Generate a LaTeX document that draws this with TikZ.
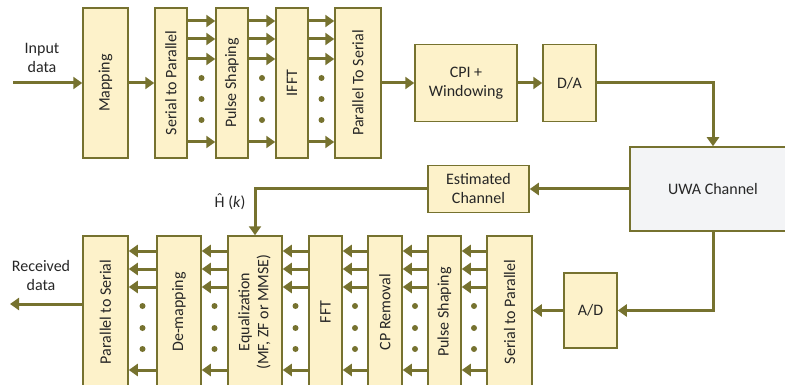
\documentclass[tikz,border=0pt]{standalone}
\usepackage{fontspec}
\setmainfont{Carlito}
\usetikzlibrary{arrows.meta}
\definecolor{lineol}{HTML}{76722F}
\definecolor{boxfill}{HTML}{FDF2CA}
\definecolor{chanfill}{HTML}{F3F4F6}
\definecolor{txt}{HTML}{262626}
\newcommand{\hhat}{\ooalign{H\cr\hidewidth\raisebox{0.2em}{\char"02C6}\hidewidth\cr}}

\begin{document}
\begin{tikzpicture}[x=1pt,y=-1pt,
    blk/.style={draw=lineol,line width=1.5pt,fill=boxfill,inner sep=0pt,
        font=\fontsize{16}{19}\selectfont,text=txt,align=center},
    lbl/.style={font=\fontsize{16}{19}\selectfont,text=txt,align=center},
    arr/.style={draw=lineol,line width=3pt,-{Triangle[length=9pt,width=12pt]}},
    ln/.style={draw=lineol,line width=3pt}]
    \clip (0,0) rectangle (785,385);
    %transmitter
    \node[blk,minimum width=45pt,minimum height=150pt] (map) at (105.5,83) {\rotatebox{90}{Mapping}};
    \node[blk,minimum width=32pt,minimum height=150pt] (sp) at (171,83) {\rotatebox{90}{Serial to Parallel}};
    \node[blk,minimum width=32pt,minimum height=150pt] (psh) at (232,83) {\rotatebox{90}{Pulse Shaping}};
    \node[blk,minimum width=32pt,minimum height=150pt] (ifft) at (292,83) {\rotatebox{90}{IFFT}};
    \node[blk,minimum width=46pt,minimum height=150pt] (ps) at (358,83) {\rotatebox{90}{Parallel To Serial}};
    \node[blk,minimum width=102pt,minimum height=77pt] (cpi) at (466,83) {CPI +\\Windowing};
    \node[blk,minimum width=53pt,minimum height=77pt] (da) at (569.5,83) {D/A};
    %channel
    \node[blk,fill=chanfill,minimum width=166pt,minimum height=84pt] (uwa) at (713,189) {UWA Channel};
    \node[blk,minimum width=101pt,minimum height=47pt] (est) at (478.5,189) {Estimated\\Channel};
    %receiver
    \node[blk,minimum width=45pt,minimum height=152pt] (p2s) at (105.5,312) {\rotatebox{90}{Parallel to Serial}};
    \node[blk,minimum width=44pt,minimum height=152pt] (dem) at (179,312) {\rotatebox{90}{De-mapping}};
    \node[blk,minimum width=54pt,minimum height=152pt] (eq) at (255,312) {\rotatebox{90}{\begin{tabular}{@{}c@{}}Equalization\\(MF, ZF or MMSE)\end{tabular}}};
    \node[blk,minimum width=33pt,minimum height=152pt] (fft) at (325.5,312) {\rotatebox{90}{FFT}};
    \node[blk,minimum width=34pt,minimum height=152pt] (cpr) at (385,312) {\rotatebox{90}{CP Removal}};
    \node[blk,minimum width=33pt,minimum height=152pt] (psr) at (444.5,312) {\rotatebox{90}{Pulse Shaping}};
    \node[blk,minimum width=45pt,minimum height=152pt] (s2p) at (509.5,312) {\rotatebox{90}{Serial to Parallel}};
    \node[blk,minimum width=53pt,minimum height=75pt] (ad) at (590.5,310.5) {A/D};
    %labels
    \node[lbl] (inp) at (42,57.5) {Input\\data};
    \node[lbl] (rec) at (41,275.5) {Received\\data};
    \node[lbl,anchor=east] (hk) at (249,203) {\hhat{} (\textit{k})};
    \coordinate (in) at (13,83);
    \coordinate (out) at (10,304);
    %connectors
    \draw[arr] (in) -- (map.west);
    \draw[arr] (map.east) -- (sp.west);
    \foreach \a/\b in {sp/psh,psh/ifft,ifft/ps} {
        \foreach \r in {21,39,59,142}
            \draw[arr] (\a.east |- 0,\r) -- (\b.west |- 0,\r);
        \path (\a.east) -- coordinate[midway] (m) (\b.west);
        \foreach \r in {78,99,120}
            \fill[lineol] (m |- 0,\r) circle (3pt);
    }
    \draw[arr] (ps.east) -- (cpi.west);
    \draw[arr] (cpi.east) -- (da.west);
    \draw[arr] (da.east) -| (uwa.north);
    \draw[arr] (uwa.west) -- (est.east);
    \draw[arr] (est.west) -| (eq.north);
    \draw[arr] (uwa.south) |- (ad.east);
    \draw[arr] (ad.west) -- (s2p.east |- ad.west);
    \foreach \a/\b in {s2p/psr,psr/cpr,cpr/fft,fft/eq,eq/dem,dem/p2s} {
        \foreach \r in {251,269,287,370}
            \draw[arr] (\a.west |- 0,\r) -- (\b.east |- 0,\r);
        \path (\a.west) -- coordinate[midway] (m) (\b.east);
        \foreach \r in {306,328,349}
            \fill[lineol] (m |- 0,\r) circle (3pt);
    }
    \draw[arr] (p2s.west |- out) -- (out);
\end{tikzpicture}
\end{document}
